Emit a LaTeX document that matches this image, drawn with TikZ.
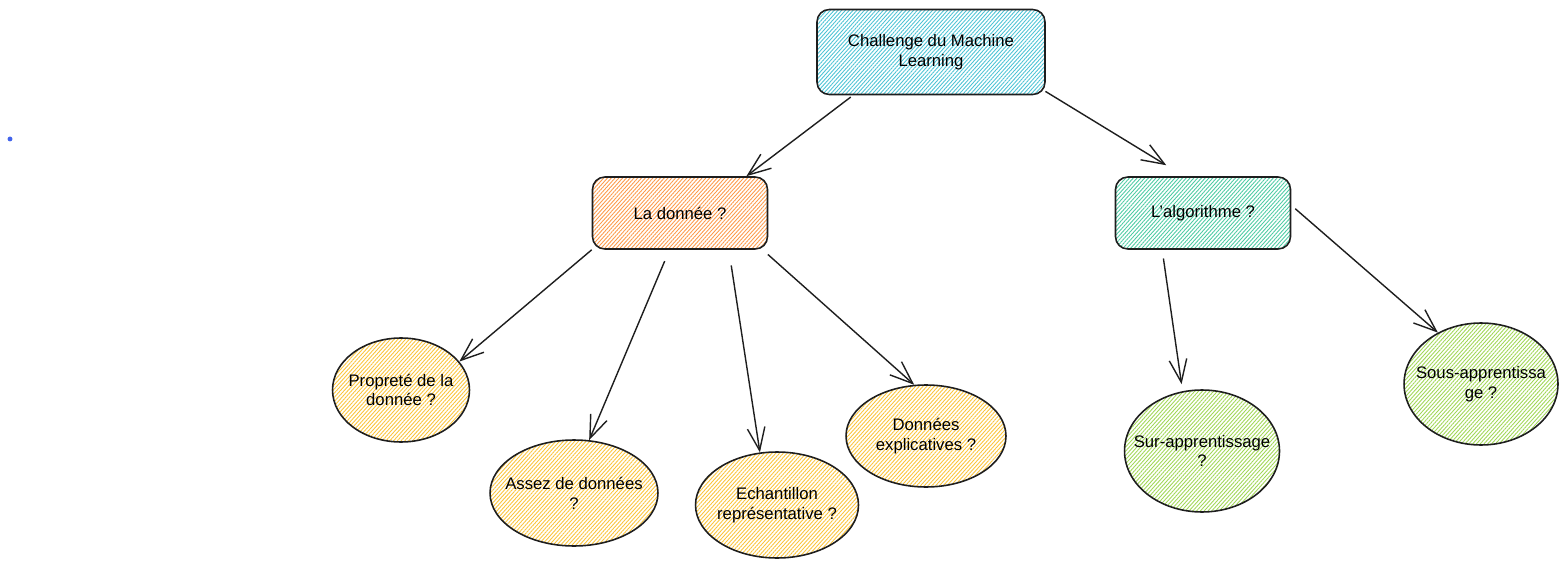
\documentclass[tikz,border=0pt]{standalone}
\usepackage{fontspec}
\setmainfont{Liberation Sans}
\usepackage[dvipsnames]{xcolor}
\usetikzlibrary{shapes.geometric, arrows.meta, patterns.meta}
\definecolor{inkline}{HTML}{1E1E1E}
\definecolor{cyanhatch}{HTML}{4CC3D5}
\definecolor{orangehatch}{HTML}{FD9A4A}
\definecolor{tealhatch}{HTML}{4DCBA3}
\definecolor{yellowhatch}{HTML}{FBC43A}
\definecolor{limehatch}{HTML}{A1D756}
\definecolor{dotblue}{HTML}{4263EB}
\tikzstyle{topic} = [rectangle, rounded corners=7pt, minimum width=3.5cm, minimum height=1.44cm, text centered, align=center, draw=inkline, line width=0.9pt]
\tikzstyle{question} = [ellipse, minimum width=3.2cm, minimum height=2.1cm, inner sep=0pt, draw=inkline, line width=0.9pt]
\tikzstyle{arrow} = [line width=0.8pt, draw=inkline, ->, >={Straight Barb[length=13pt,width=10pt]}]
\tikzset{hatch/.style={pattern={Lines[angle=48,distance=1.6pt,line width=0.5pt]}, pattern color=#1}}

\begin{document}
\begin{tikzpicture}[x=0.02cm, y=0.02cm, yscale=-1, font=\fontsize{9.5}{11.3}\selectfont]
\useasboundingbox (0,0) rectangle (1567,567);

\fill[dotblue] (10,139) circle (1.4pt);

\node at (931, 52) (challenge) [topic, hatch=cyanhatch, minimum width=4.56cm, minimum height=1.7cm] {Challenge du Machine\\Learning};
\node at (680, 213) (donnee) [topic, hatch=orangehatch] {La donnée ?};
\node at (1203, 213) (algo) [topic, hatch=tealhatch] {L'algorithme ?};

\node at (401, 390) (proprete) [question, hatch=yellowhatch, minimum width=2.74cm, minimum height=2.08cm, label={[align=center]center:Propreté de la\\donnée ?}] {};
\node at (574, 493) (assez) [question, hatch=yellowhatch, minimum width=3.36cm, minimum height=2.12cm, label={[align=center]center:Assez de données\\?}] {};
\node at (777, 505) (echantillon) [question, hatch=yellowhatch, minimum width=3.26cm, minimum height=2.12cm, label={[align=center]center:Echantillon\\représentative ?}] {};
\node at (926, 436) (explicatives) [question, hatch=yellowhatch, minimum width=3.2cm, minimum height=2.04cm, label={[align=center]center:Données\\explicatives ?}] {};

\node at (1202, 451) (sur) [question, hatch=limehatch, minimum width=3.1cm, minimum height=2.44cm, label={[align=center]center:Sur-apprentissage\\?}] {};
\node at (1481, 384) (sous) [question, hatch=limehatch, minimum width=3.08cm, minimum height=2.44cm, label={[align=center]center:Sous-apprentissa\\ge ?}] {};

\draw [arrow, shorten <=2pt] (challenge.209) -- (donnee.29);
\draw [arrow, shorten >=12pt] (challenge.-19) -- (algo.117);
\draw [arrow] (donnee.south west) -- (proprete.26);
\draw [arrow, shorten <=7pt] (donnee.254) -- (assez.74);
\draw [arrow, shorten <=9pt] (donnee.-37) -- (echantillon.108);
\draw [arrow, shorten <=4pt] (donnee.-24) -- (explicatives.103);
\draw [arrow, shorten <=5pt, shorten >=4pt] (algo.222) -- (sur.108);
\draw [arrow, shorten <=3pt] (algo.5) -- (sous.130);

\end{tikzpicture}
\end{document}
